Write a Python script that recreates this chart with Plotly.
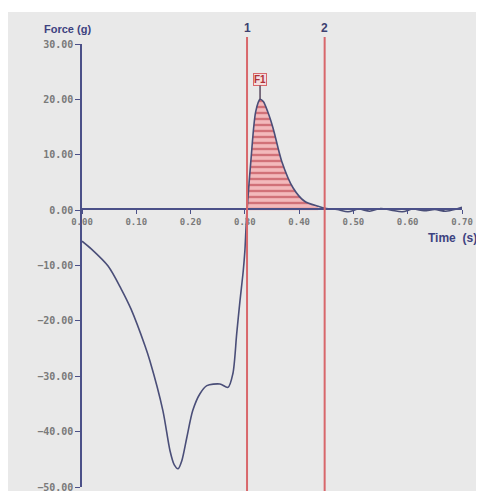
import plotly.graph_objects as go

# Data
time_s = [0.000, 0.017, 0.048, 0.072, 0.090, 0.116, 0.125, 0.149, 0.162, 0.170,
          0.177, 0.184, 0.193, 0.204, 0.217, 0.230, 0.254, 0.269, 0.278, 0.285,
          0.291, 0.297, 0.300, 0.302, 0.304, 0.311, 0.320, 0.328, 0.334, 0.342,
          0.352, 0.368, 0.389, 0.410, 0.435, 0.450, 0.470, 0.490, 0.510, 0.530,
          0.550, 0.570, 0.590, 0.610, 0.630, 0.650, 0.670, 0.690, 0.700]
force_g = [-5.6, -7.0, -10.1, -14.2, -17.8, -24.5, -27.2, -36.2, -43.4, -46.0,
           -46.7, -45.2, -41.1, -36.2, -33.2, -31.7, -31.4, -32.0, -29.5, -22.3,
           -16.4, -11.0, -7.4, -3.5, 0.0, 8.8, 17.8, 20.0, 19.6, 17.8,
           14.8, 8.8, 4.0, 1.6, 0.7, 0.3, 0.1, -0.3, 0.2, -0.2,
           0.3, 0.0, -0.3, 0.2, -0.1, 0.1, -0.2, 0.2, 0.5]

anchor_times = [0.304, 0.447]
anchor_labels = ["1", "2"]
peak_time = 0.328
peak_force = 20.0
peak_label = "F1"

x_ticks = [0.0, 0.1, 0.2, 0.3, 0.4, 0.5, 0.6, 0.7]
y_ticks = [30, 20, 10, 0, -10, -20, -30, -40, -50]

AX = "#4b5088"
RED = "#d8676b"
BG = "#e9e9e9"

fig = go.Figure()

# shaded area between anchors
fill_t = [t for t in time_s if anchor_times[0] <= t <= anchor_times[1]]
fill_f = [f for t, f in zip(time_s, force_g) if anchor_times[0] <= t <= anchor_times[1]]
fig.add_trace(go.Scatter(
    x=fill_t, y=fill_f, mode="lines", line=dict(width=0, shape="spline", smoothing=0.6),
    fill="tozeroy", fillcolor="rgba(0,0,0,0)",
    fillpattern=dict(shape="-", fgcolor="#b02a36", bgcolor="#f3b9bb", size=6, solidity=0.4),
    hoverinfo="skip", showlegend=False))

fig.add_trace(go.Scatter(
    x=time_s, y=force_g, mode="lines",
    line=dict(color="#4a4e78", width=1.6, shape="spline", smoothing=0.8),
    showlegend=False))

for t, lab in zip(anchor_times, anchor_labels):
    fig.add_shape(type="line", xref="x", yref="paper", x0=t, x1=t, y0=-0.02, y1=1.016,
                  line=dict(color=RED, width=2))
    fig.add_annotation(x=t, xref="x", y=1.036, yref="paper", text=lab, showarrow=False,
                       xanchor="center", yanchor="middle",
                       font=dict(family="Liberation Sans", size=12, color="#3d4170", weight="bold"))

fig.add_annotation(x=peak_time, y=peak_force, text=peak_label, showarrow=True,
                   arrowhead=0, arrowwidth=1.5, arrowcolor="#5a4a60", ax=0, ay=-20,
                   font=dict(family="Liberation Sans", size=10, color="#b03038", weight="bold"),
                   bordercolor=RED, borderwidth=1, borderpad=0, bgcolor="#f4dede")

# background panel
fig.add_shape(type="rect", xref="paper", yref="paper", x0=-0.1947, x1=1.06,
              y0=-0.02, y1=1.0722, fillcolor=BG, line=dict(width=0), layer="below")

fig.add_annotation(x=-0.037, y=1.034, xref="paper", yref="paper", text="Force (g)",
                   showarrow=False, xanchor="center", yanchor="middle",
                   font=dict(family="Liberation Sans", size=11, color="#3d4280", weight="bold"))
fig.add_annotation(x=0.974, y=0.562, xref="paper", yref="paper", text="Time  (s)",
                   showarrow=False, xanchor="center", yanchor="middle",
                   font=dict(family="Liberation Sans", size=12, color="#3d4280", weight="bold"))

x_tick_font = dict(family="DejaVu Sans Mono", size=9, color="#7a7a7a", weight="bold")
y_tick_font = dict(family="DejaVu Sans Mono", size=10, color="#7a7a7a", weight="bold")

fig.update_layout(
    width=476, height=483,
    margin=dict(l=74, r=22, t=36, b=4, autoexpand=False),
    paper_bgcolor="white", plot_bgcolor=BG,
    xaxis=dict(range=[0, 0.7], tickvals=x_ticks, tickformat=".2f", anchor="free",
               position=0.6275, showline=True, linecolor=AX, linewidth=1.5,
               ticks="outside", ticklen=4, tickcolor=AX, showgrid=False, zeroline=False,
               tickfont=x_tick_font, ticklabeloverflow="allow", automargin=False),
    yaxis=dict(range=[-50, 30], tickvals=y_ticks, tickformat=".2f", showline=True,
               linecolor=AX, linewidth=1.5, ticks="outside", ticklen=5, tickcolor=AX,
               showgrid=False, zeroline=False, tickfont=y_tick_font,
               ticklabeloverflow="allow", automargin=False),
)

fig.write_html("out.html")
